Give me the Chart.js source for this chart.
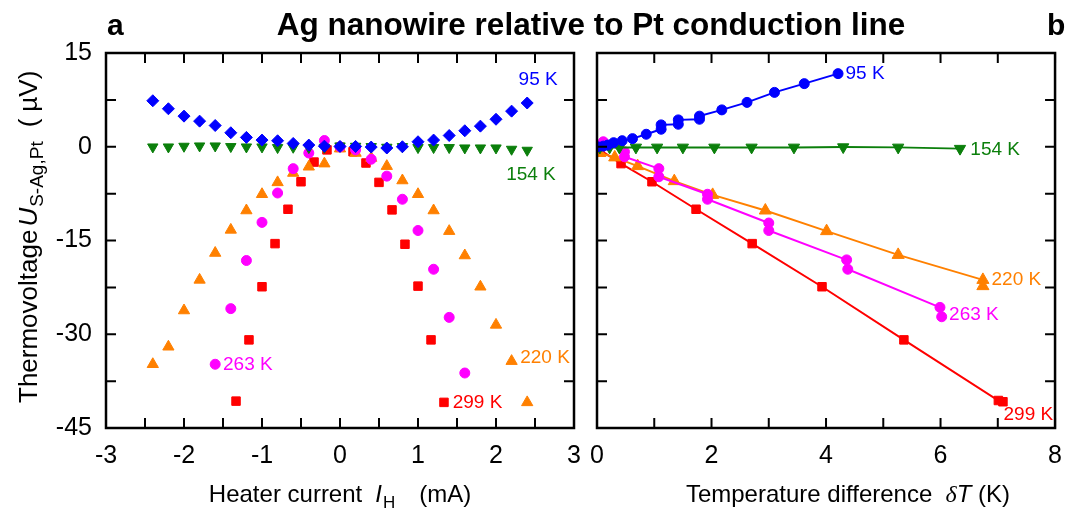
<!DOCTYPE html>
<html>
<head>
<meta charset="utf-8">
<script src="https://cdn.jsdelivr.net/npm/chart.js@4"></script>
<style>
  html, body { margin: 0; padding: 0; background: #fff; }
  #wrap { position: relative; width: 1075px; height: 515px; background: #fff; }
  #wrap canvas { position: absolute; left: 0; top: 0; }
</style>
</head>
<body>
<div id="wrap">
  <canvas id="ca" width="1075" height="515"></canvas>
  <canvas id="cb" width="1075" height="515"></canvas>
</div>
<script>
// ---------------- DATA: panel a (heater current in mA, thermovoltage in µV) ----------------
const aI_95 = [-2.4,-2.2,-2.0,-1.8,-1.6,-1.4,-1.2,-1.0,-0.8,-0.6,-0.4,-0.2,0,0.2,0.4,0.6,0.8,1.0,1.2,1.4,1.6,1.8,2.0,2.2,2.4];
const aU_95 = [7.36,6.08,4.9,4.1,3.4,2.24,1.5,1.07,0.96,0.53,0.27,0.1,0.05,0.05,-0.05,-0.2,0,0.8,1.07,1.8,2.56,3.3,4.4,5.7,7.0];
const aI_154 = [-2.4,-2.2,-2.0,-1.8,-1.6,-1.4,-1.2,-1.0,-0.8,-0.6,-0.4,-0.2,0,0.2,0.4,0.6,0.8,1.0,1.2,1.4,1.6,1.8,2.0,2.2,2.4];
const aU_154 = [-0.03,-0.03,0.08,0.13,0.13,0.03,-0.03,-0.03,-0.13,-0.08,-0.13,-0.08,0.13,0.08,0.03,-0.08,0.03,-0.13,-0.13,-0.13,-0.19,-0.19,-0.19,-0.4,-0.56];
const aI_220 = [-2.4,-2.2,-2.0,-1.8,-1.6,-1.4,-1.2,-1.0,-0.8,-0.6,-0.4,-0.2,0,0.2,0.4,0.6,0.8,1.0,1.2,1.4,1.6,1.8,2.0,2.2,2.4];
const aU_220 = [-34.8,-32.0,-26.2,-21.3,-17.0,-13.3,-10.2,-7.6,-5.7,-4.2,-3.2,-2.7,-0.3,-1.0,-1.8,-3.1,-5.4,-7.6,-10.2,-13.5,-17.4,-22.4,-28.5,-34.3,-40.9];
const aI_263 = [-1.6,-1.4,-1.2,-1.0,-0.8,-0.6,-0.4,-0.2,0,0.2,0.4,0.6,0.8,1.0,1.2,1.4,1.6];
const aU_263 = [-34.8,-25.9,-18.2,-12.1,-7.4,-3.5,-1.0,1.0,0,-0.5,-2.0,-4.7,-8.4,-13.4,-19.6,-27.3,-36.2];
const aI_299 = [-1.333,-1.167,-1.0,-0.833,-0.667,-0.5,-0.333,-0.167,0,0.167,0.333,0.5,0.667,0.833,1.0,1.167,1.333];
const aU_299 = [-40.7,-30.9,-22.4,-15.5,-10.0,-5.6,-2.45,-0.5,-0.1,-0.8,-2.6,-5.7,-10.1,-15.6,-22.3,-30.9,-40.9];

// ---------------- DATA: panel b (temperature difference in K, thermovoltage in µV) ----------------
const bT_95 = [0.01,0.11,0.19,0.29,0.44,0.62,0.86,1.12,1.12,1.42,1.42,1.79,1.79,2.18,2.62,3.10,3.62,4.21];
const bU_95 = [0.0,0.1,0.27,0.65,0.97,1.3,2.0,2.8,3.5,3.6,4.3,4.4,4.9,5.9,7.1,8.7,10.1,11.7];
const bT_154 = [0.05,0.22,0.39,0.68,1.05,1.5,2.05,2.7,3.44,4.3,5.26,6.34];
const bU_154 = [-0.1,-0.1,-0.1,-0.1,-0.1,-0.1,-0.1,-0.1,-0.1,-0.05,-0.1,-0.3];
const bT_220 = [0.05,0.31,0.71,1.35,2.02,2.94,4.01,5.26,6.74,6.74];
const bU_220 = [-1.0,-1.7,-3.1,-5.5,-7.7,-10.2,-13.5,-17.3,-21.3,-22.3];
const bT_263 = [0.11,0.48,0.48,1.08,1.08,1.93,1.93,3.0,3.0,4.36,4.38,5.99,6.02];
const bU_263 = [0.8,-0.8,-1.6,-3.5,-4.8,-7.6,-8.4,-12.2,-13.4,-18.1,-19.6,-25.7,-27.2];
const bT_299 = [0.05,0.42,0.96,1.73,2.71,3.93,5.36,7.01,7.09];
const bU_299 = [-0.5,-2.7,-5.6,-10.0,-15.5,-22.4,-30.9,-40.6,-40.8];

// ---------------- TEXT ----------------
const seriesNames = ['95 K', '154 K', '220 K', '263 K', '299 K'];
const yTickLabels = [15, 0, -15, -30, -45];
const aXTickLabels = [-3, -2, -1, 0, 1, 2, 3];
const bXTickLabels = [0, 2, 4, 6, 8];

// ---------------- STYLE ----------------
const FONT = "'Liberation Sans', Arial, Helvetica, sans-serif";
const C = { b: '#0000ff', g: '#0b7f0b', o: '#ff8000', m: '#ff00ff', r: '#ff0000' };
const zip = (xs, ys) => xs.map((x, i) => ({ x, y: ys[i] }));

function rich(ctx, segs, x, y, align, angle) {
  ctx.save();
  ctx.translate(x, y);
  if (angle) ctx.rotate(angle);
  let total = 0;
  segs.forEach(s => { ctx.font = s.f; s.w = ctx.measureText(s.t).width + (s.gap || 0); total += s.w; });
  let cx = align === 'center' ? -total / 2 : (align === 'right' ? -total : 0);
  ctx.textAlign = 'left';
  ctx.textBaseline = 'alphabetic';
  segs.forEach(s => {
    ctx.font = s.f; ctx.fillStyle = s.c || '#000';
    ctx.fillText(s.t, cx + (s.gap || 0), s.dy || 0);
    cx += s.w;
  });
  ctx.restore();
}

const boxTicks = {
  id: 'boxTicks',
  afterDraw(chart) {
    const { ctx, chartArea: a, scales: { x, y } } = chart;
    ctx.save();
    ctx.strokeStyle = '#000';
    ctx.lineWidth = 2;
    const L = 10;
    ctx.beginPath();
    x.ticks.forEach(t => {
      const px = x.getPixelForValue(t.value);
      ctx.moveTo(px, a.bottom); ctx.lineTo(px, a.bottom - L);
      ctx.moveTo(px, a.top); ctx.lineTo(px, a.top + L);
    });
    y.ticks.forEach(t => {
      const py = y.getPixelForValue(t.value);
      ctx.moveTo(a.left, py); ctx.lineTo(a.left + L, py);
      ctx.moveTo(a.right, py); ctx.lineTo(a.right - L, py);
    });
    ctx.stroke();
    ctx.lineWidth = 2.5;
    ctx.strokeRect(a.left, a.top, a.right - a.left, a.bottom - a.top);
    ctx.restore();
  }
};

const curveLabels = {
  id: 'curveLabels',
  afterDatasetsDraw(chart, args, opts) {
    const { ctx, scales: { x, y } } = chart;
    ctx.save();
    ctx.font = '19px ' + FONT;
    ctx.textAlign = 'left';
    ctx.textBaseline = 'middle';
    (opts.items || []).forEach(it => {
      ctx.fillStyle = it.c;
      ctx.fillText(it.t, x.getPixelForValue(it.x), y.getPixelForValue(it.y));
    });
    ctx.restore();
  }
};

const figText = {
  id: 'figText',
  afterDraw(chart) {
    const ctx = chart.ctx;
    const B = 'bold 31.5px ' + FONT;
    rich(ctx, [{ t: 'Ag nanowire relative to Pt conduction line', f: B }], 591, 35, 'center');
    rich(ctx, [{ t: 'a', f: 'bold 30px ' + FONT }], 107, 35, 'left');
    rich(ctx, [{ t: 'b', f: 'bold 30px ' + FONT }], 1047, 35, 'left');
    const N = '24px ' + FONT, I = 'italic 24px ' + FONT, S = '17px ' + FONT;
    rich(ctx, [
      { t: 'Heater current', f: N },
      { t: 'I', f: I, gap: 13 },
      { t: 'H', f: S, dy: 6, gap: 1 },
      { t: '(mA)', f: N, gap: 24 }
    ], 340, 502, 'center');
    rich(ctx, [
      { t: 'Temperature difference  ', f: N },
      { t: '\u03B4', f: "italic 24px 'Liberation Serif', serif" },
      { t: 'T', f: I },
      { t: ' (K)', f: N }
    ], 848, 502, 'center');
    const NY = '26px ' + FONT, IY = 'italic 26px ' + FONT, SY = '19px ' + FONT;
    rich(ctx, [
      { t: 'Thermovoltage', f: NY },
      { t: 'U', f: IY, gap: 3 },
      { t: 'S-Ag,Pt', f: SY, dy: 6, gap: 1 },
      { t: '(', f: NY, gap: 14 },
      { t: '\u00B5V)', f: NY, gap: 7 }
    ], 37, 403, 'left', -Math.PI / 2);
  }
};

function yScale(showLabels, width) {
  return {
    type: 'linear', min: -45, max: 15,
    grid: { display: false, drawTicks: false },
    border: { display: false },
    afterFit(s) { s.width = width; },
    ticks: {
      display: showLabels, stepSize: 7.5, autoSkip: false, padding: 14,
      color: '#000', font: { family: FONT, size: 25 },
      callback: v => (yTickLabels.includes(v) ? String(v) : '')
    }
  };
}
function xScale(min, max, step, labels) {
  return {
    type: 'linear', min, max,
    grid: { display: false, drawTicks: false },
    border: { display: false },
    afterFit(s) { s.height = 87; },
    ticks: {
      stepSize: step, autoSkip: false, maxRotation: 0, padding: 13,
      color: '#000', font: { family: FONT, size: 25 },
      callback: v => (labels.includes(v) ? String(v) : '')
    }
  };
}

function pts(label, data, color, style, r, rot) {
  return {
    label, data, showLine: false,
    pointStyle: style, pointRadius: r, pointRotation: rot || 0,
    pointBackgroundColor: color, pointBorderColor: color, pointBorderWidth: 1,
    backgroundColor: color, borderColor: color
  };
}
function ptsLine(label, data, color, style, r, rot) {
  const d = pts(label, data, color, style, r, rot);
  d.showLine = true; d.borderWidth = 2; d.tension = 0;
  return d;
}

const common = {
  responsive: false, animation: false, devicePixelRatio: 1,
  events: [],
  plugins: { legend: { display: false }, tooltip: { enabled: false } }
};

new Chart(document.getElementById('ca'), {
  type: 'scatter',
  data: {
    datasets: [
      pts(seriesNames[0], zip(aI_95, aU_95), C.b, 'rectRot', 6),
      pts(seriesNames[1], zip(aI_154, aU_154), C.g, 'triangle', 6, 180),
      pts(seriesNames[3], zip(aI_263, aU_263), C.m, 'circle', 5),
      pts(seriesNames[2], zip(aI_220, aU_220), C.o, 'triangle', 6.5),
      pts(seriesNames[4], zip(aI_299, aU_299), C.r, 'rect', 6)
    ]
  },
  options: Object.assign({}, common, {
    layout: { padding: { left: 0, right: 501, top: 53, bottom: 0 } },
    scales: { x: xScale(-3, 3, 0.5, aXTickLabels), y: yScale(true, 106) },
    plugins: Object.assign({}, common.plugins, {
      curveLabels: { items: [
        { t: seriesNames[0], x: 2.29, y: 10.7, c: C.b },
        { t: seriesNames[1], x: 2.13, y: -4.5, c: C.g },
        { t: seriesNames[3], x: -1.5, y: -34.9, c: C.m },
        { t: seriesNames[2], x: 2.31, y: -33.8, c: C.o },
        { t: seriesNames[4], x: 1.445, y: -40.9, c: C.r }
      ] }
    })
  }),
  plugins: [boxTicks, curveLabels]
});

new Chart(document.getElementById('cb'), {
  type: 'scatter',
  data: {
    datasets: [
      ptsLine(seriesNames[0], zip(bT_95, bU_95), C.b, 'circle', 5),
      ptsLine(seriesNames[1], zip(bT_154, bU_154), C.g, 'triangle', 6.5, 180),
      ptsLine(seriesNames[3], zip(bT_263, bU_263), C.m, 'circle', 5),
      ptsLine(seriesNames[2], zip(bT_220, bU_220), C.o, 'triangle', 7),
      ptsLine(seriesNames[4], zip(bT_299, bU_299), C.r, 'rect', 6)
    ]
  },
  options: Object.assign({}, common, {
    layout: { padding: { left: 0, right: 10, top: 53, bottom: 0 } },
    scales: { x: xScale(0, 8, 1, bXTickLabels), y: yScale(false, 597) },
    plugins: Object.assign({}, common.plugins, {
      curveLabels: { items: [
        { t: seriesNames[0], x: 4.34, y: 11.7, c: C.b },
        { t: seriesNames[1], x: 6.52, y: -0.5, c: C.g },
        { t: seriesNames[2], x: 6.89, y: -21.3, c: C.o },
        { t: seriesNames[3], x: 6.15, y: -26.9, c: C.m },
        { t: seriesNames[4], x: 7.1, y: -42.9, c: C.r }
      ] }
    })
  }),
  plugins: [boxTicks, curveLabels, figText]
});
</script>
</body>
</html>
